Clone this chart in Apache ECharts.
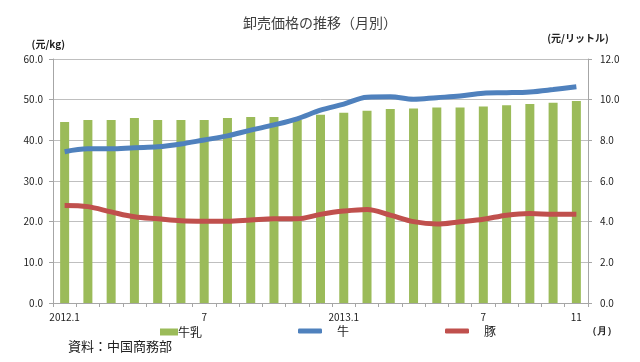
<!DOCTYPE html>
<html>
<head>
<meta charset="utf-8">
<script src="https://cdn.jsdelivr.net/npm/echarts@6/dist/echarts.min.js"></script>
<style>
html,body{margin:0;padding:0;background:#fff;}
#c{width:640px;height:362px;}
</style>
</head>
<body>
<div id="c"></div>
<script>
var months = ['2012.1','2','3','4','5','6','7','8','9','10','11','12',
              '2013.1','2','3','4','5','6','7','8','9','10','11'];
var shownLabels = {0:'2012.1', 6:'7', 12:'2013.1', 18:'7', 22:'11'};
var milk = [8.9, 9.0, 9.0, 9.1, 9.0, 9.0, 9.0, 9.1, 9.15, 9.15, 9.0, 9.26,
            9.36, 9.46, 9.54, 9.57, 9.61, 9.61, 9.66, 9.72, 9.79, 9.85, 9.93];
var beef = [37.2, 37.9, 37.9, 38.2, 38.4, 39.1, 40.1, 41.1, 42.5, 43.8, 45.3, 47.4,
            48.9, 50.6, 50.7, 50.1, 50.5, 50.9, 51.6, 51.7, 51.9, 52.5, 53.2];
var pork = [24.0, 23.7, 22.4, 21.2, 20.7, 20.2, 20.1, 20.1, 20.4, 20.7, 20.7, 21.8,
            22.6, 23.0, 21.6, 20.0, 19.4, 20.0, 20.6, 21.6, 22.0, 21.8, 21.8];

var FONT = '"Noto Sans CJK JP", "Noto Sans", sans-serif';
var chart = echarts.init(document.getElementById('c'), null, {renderer:'canvas'});
chart.setOption({
  animation: false,
  textStyle: {fontFamily: FONT},
  title: {
    text: '卸売価格の推移（月別）',
    left: 'center', top: 11,
    textStyle: {fontSize: 14, fontWeight: 'normal', color: '#404040', fontFamily: FONT}
  },
  legend: [
    {data: ['牛乳'], left: 155, top: 321, itemWidth: 18, itemHeight: 7, itemGap: 0,
     textStyle: {fontSize: 12, color: '#222', padding: [0,0,0,-5]}, icon: 'rect'},
    {data: ['牛'], left: 293, top: 320, itemWidth: 24, itemHeight: 5, itemGap: 0,
     textStyle: {fontSize: 12, color: '#222', padding: [0,0,6,10]}, icon: 'roundRect'},
    {data: ['豚'], left: 440, top: 320, itemWidth: 24, itemHeight: 5, itemGap: 0,
     textStyle: {fontSize: 12, color: '#222', padding: [0,0,6,10]}, icon: 'roundRect'}
  ],
  grid: {left: 53, right: 52, top: 59, bottom: 59, containLabel: false},
  xAxis: {
    type: 'category',
    data: months,
    boundaryGap: true,
    axisLine: {lineStyle: {color: '#A6A6A6'}},
    axisTick: {show: true, length: 4, interval: 0, lineStyle: {color: '#A6A6A6'}},
    axisLabel: {
      interval: 0, fontSize: 10, color: '#222', margin: 9,
      formatter: function (v, i) { return shownLabels[i] !== undefined ? shownLabels[i] : ''; }
    }
  },
  yAxis: [
    {
      type: 'value', min: 0, max: 60, interval: 10,
      name: '(元/kg)', nameLocation: 'end', nameGap: 10,
      nameTextStyle: {fontSize: 10, fontWeight: 'bold', color: '#222', align: 'right', padding: [0, -12, 0, 0]},
      axisLine: {show: true, lineStyle: {color: '#A6A6A6'}},
      axisTick: {show: true, length: 4, lineStyle: {color: '#A6A6A6'}},
      axisLabel: {fontSize: 10, color: '#222', margin: 10, formatter: function (v) { return v.toFixed(1); }},
      splitLine: {lineStyle: {color: '#BFBFBF'}}
    },
    {
      type: 'value', min: 0, max: 12, interval: 2,
      name: '(元/リットル)', nameLocation: 'end', nameGap: 16,
      nameTextStyle: {fontSize: 10, fontWeight: 'bold', color: '#222', align: 'center', padding: [0, 0, 0, -20]},
      axisLine: {show: true, lineStyle: {color: '#A6A6A6'}},
      axisTick: {show: true, length: 4, lineStyle: {color: '#A6A6A6'}},
      axisLabel: {fontSize: 10, color: '#222', margin: 12, formatter: function (v) { return v.toFixed(1); }},
      splitLine: {show: false}
    }
  ],
  series: [
    {name: '牛乳', type: 'bar', yAxisIndex: 1, data: milk, barWidth: 9,
     itemStyle: {color: '#9BBB59'}, z: 1},
    {name: '牛', type: 'line', yAxisIndex: 0, data: beef, smooth: 0.35, showSymbol: false, symbol: 'none',
     lineStyle: {width: 5, color: '#4F81BD'}, itemStyle: {color: '#4F81BD'}, z: 3},
    {name: '豚', type: 'line', yAxisIndex: 0, data: pork, smooth: 0.35, showSymbol: false, symbol: 'none',
     lineStyle: {width: 5, color: '#C0504D'}, itemStyle: {color: '#C0504D'}, z: 3}
  ],
  graphic: [
    {type: 'text', left: 587, top: 326, style: {text: '（月）', fontSize: 10, fontWeight: 'bold', fill: '#222', font: 'bold 10px ' + FONT}},
    {type: 'text', left: 68, top: 340, style: {text: '資料：中国商務部', fill: '#222', font: '13px ' + FONT}}
  ]
});
</script>
</body>
</html>
